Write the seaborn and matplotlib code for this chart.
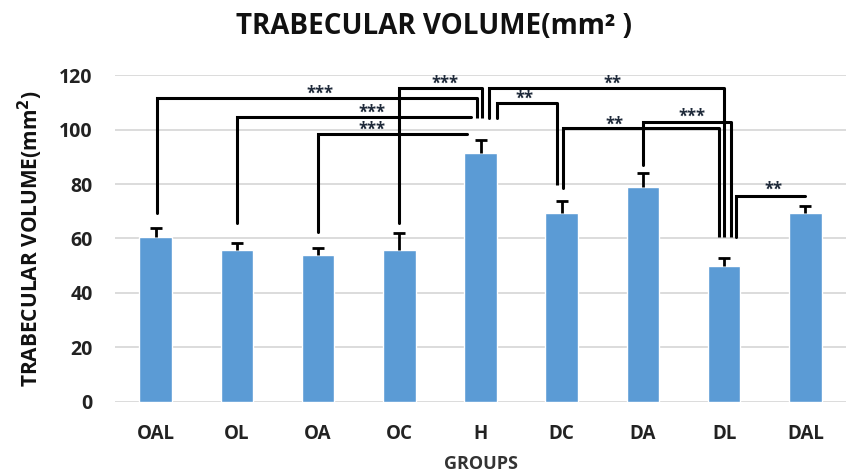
import matplotlib
matplotlib.use("Agg")
import matplotlib.pyplot as plt
import seaborn as sns
import pandas as pd
import numpy as np

groups = ["OAL", "OL", "OA", "OC", "H", "DC", "DA", "DL", "DAL"]
means = [60.5, 55.8, 54.0, 55.8, 91.5, 69.5, 79.0, 50.0, 69.5]
errors = [3.5, 2.7, 2.6, 6.2, 4.5, 4.3, 5.0, 3.0, 2.5]
yticks = [0, 20, 40, 60, 80, 100, 120]

# significance brackets: (left x, left bottom, top, right x, right bottom or None, label, label x, label y)
brackets = [
    (0.02, 69.4, 111.4, 3.96, 104.2, "***", 2.02, 113.0),
    (1.00, 65.7, 104.7, 3.88, None, "***", 2.67, 106.3),
    (2.00, 62.5, 98.2, 3.83, None, "***", 2.67, 99.8),
    (3.00, 65.7, 115.1, 4.02, 104.2, "***", 3.56, 116.7),
    (4.10, 104.2, 115.1, 7.00, 60.6, "**", 5.62, 116.7),
    (4.20, 104.2, 109.8, 4.94, 79.6, "**", 4.54, 111.3),
    (5.02, 78.5, 100.6, 6.94, 60.6, "**", 5.65, 101.6),
    (6.00, 87.0, 102.9, 7.08, 60.6, "***", 6.60, 104.6),
    (7.15, 60.6, 75.6, 8.00, None, "**", 7.61, 77.8),
]

sns.set_theme(style="white")
plt.rcParams["font.family"] = ["Open Sans", "DejaVu Sans"]

df = pd.DataFrame({"group": groups, "value": means})

fig = plt.figure(figsize=(8.47, 4.76), dpi=100)
ax = fig.add_axes([0.1358, 0.1555, 0.863, 0.6869])

ax.set_axisbelow(True)
for t in yticks:
    ax.axhline(t, color="#D9D9D9", lw=1.3, zorder=0)

sns.barplot(data=df, x="group", y="value", color="#5B9BD5", saturation=1,
            width=0.4, ax=ax, zorder=2)
eb = ax.errorbar(range(len(groups)), means, yerr=[[0] * len(errors), errors],
                 fmt="none", ecolor="black", elinewidth=2.0, capsize=4,
                 capthick=2.0, zorder=3)
for cap in eb[1]:
    if np.allclose(cap.get_ydata(), means):
        cap.set_visible(False)

lw = 2.2
for lx, lb, top, rx, rb, lab, tx, ty in brackets:
    ax.plot([lx, lx, rx], [lb, top, top], color="black", lw=lw,
            solid_joinstyle="miter", zorder=4, clip_on=False)
    if rb is not None:
        ax.plot([rx, rx], [top, rb], color="black", lw=lw, zorder=4,
                solid_capstyle="butt", clip_on=False)
    ax.text(tx, ty, lab, ha="center", va="center", fontsize=12,
            fontweight="bold", color="#1F2A3A", zorder=5)

ax.set_xlim(-0.5, 8.5)
ax.set_ylim(0, 120)
ax.set_yticks(yticks)
ax.set_yticklabels([str(t) for t in yticks], fontsize=14, fontweight="bold",
                   color="#222222")
ax.set_xticks(range(len(groups)))
ax.set_xticklabels(groups, fontsize=13.5, fontweight="bold", color="#222222")
ax.tick_params(axis="y", length=0, pad=16)
ax.tick_params(axis="x", length=0, pad=16)
for s in ax.spines.values():
    s.set_visible(False)

ax.set_xlabel("GROUPS", fontsize=13, fontweight="bold", color="#333333",
              labelpad=8)
ax.set_ylabel("TRABECULAR VOLUME(mm$^\\mathbf{2}$)", fontsize=15,
              fontweight="bold", color="#111111", labelpad=10)
fig.suptitle("TRABECULAR VOLUME(mm² )", fontsize=20, fontweight="bold",
             y=0.975, x=0.512, color="#111111")

fig.savefig("out.png", dpi=100)
